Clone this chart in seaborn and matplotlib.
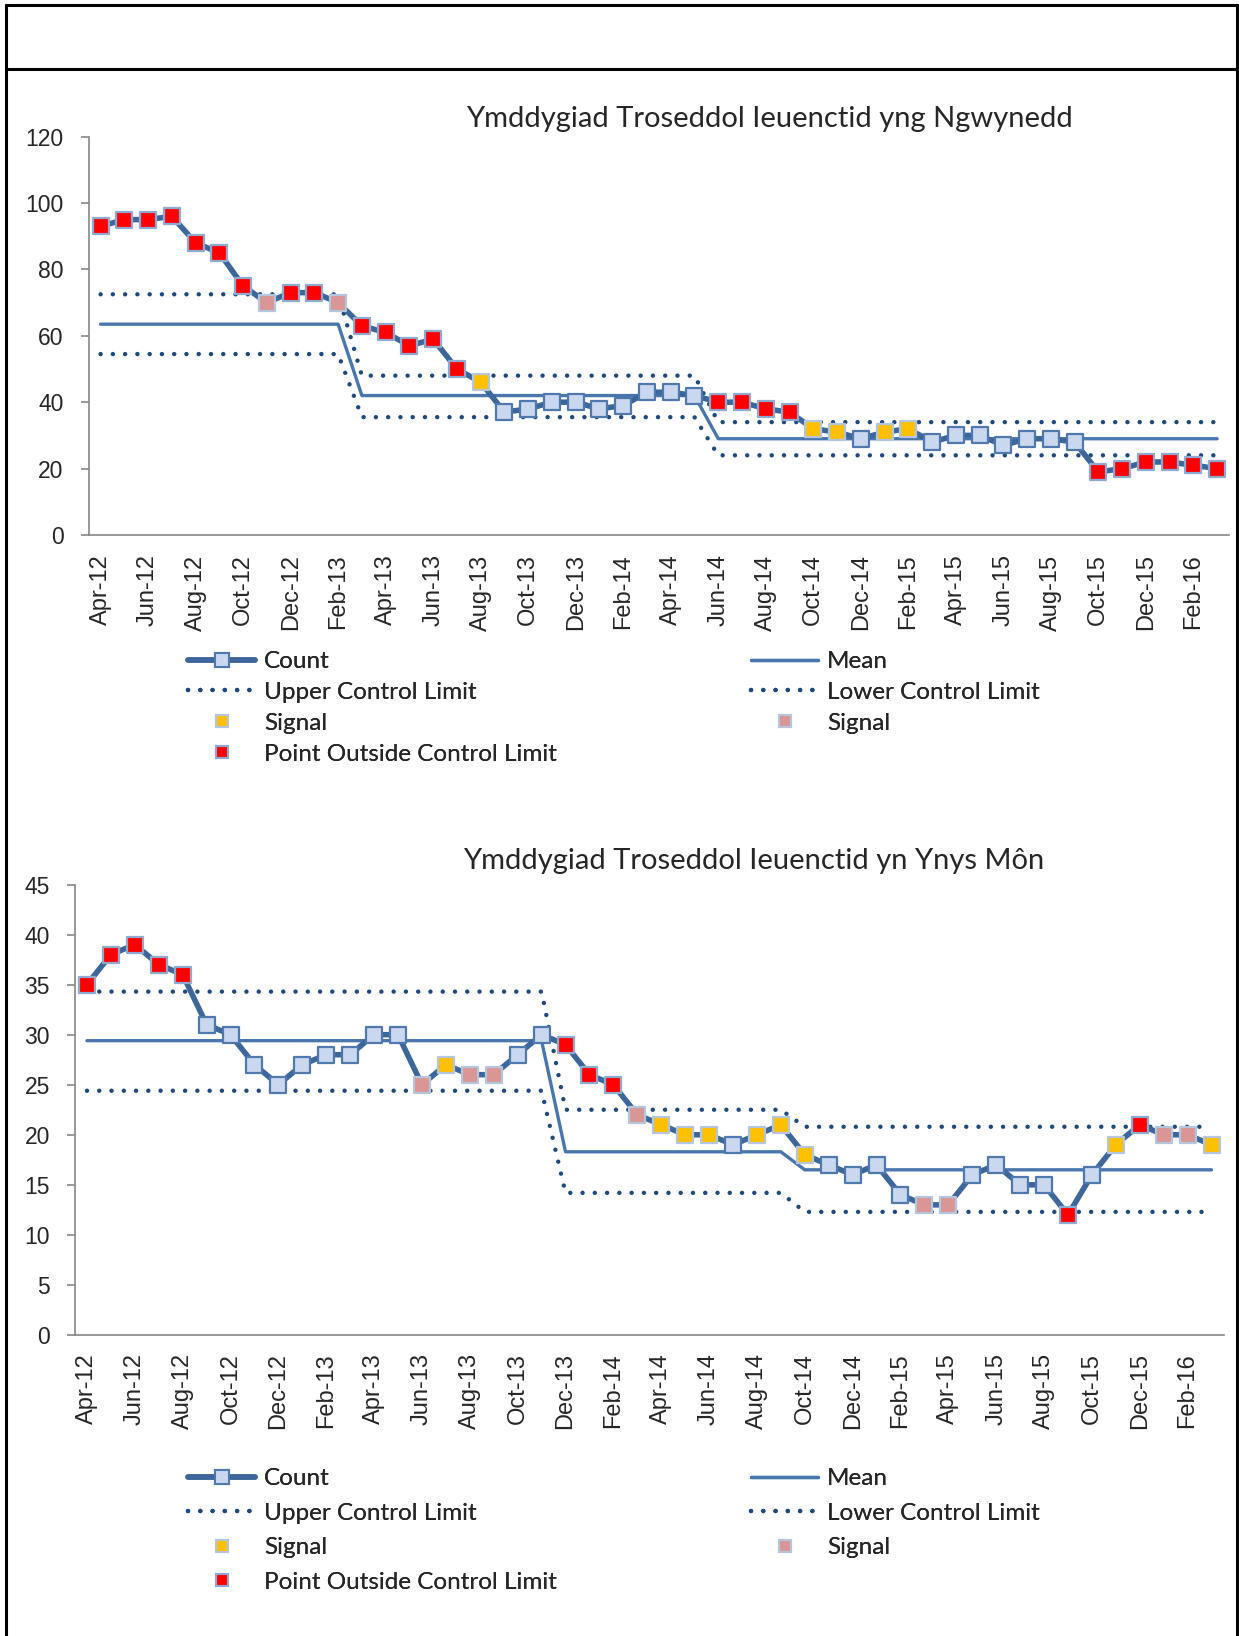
import numpy as np
import pandas as pd
import matplotlib
matplotlib.use("Agg")
import matplotlib.pyplot as plt
import seaborn as sns
from matplotlib.lines import Line2D

# months shown on both charts
months = ["Apr-12", "May-12", "Jun-12", "Jul-12", "Aug-12", "Sep-12", "Oct-12", "Nov-12",
          "Dec-12", "Jan-13", "Feb-13", "Mar-13", "Apr-13", "May-13", "Jun-13", "Jul-13",
          "Aug-13", "Sep-13", "Oct-13", "Nov-13", "Dec-13", "Jan-14", "Feb-14", "Mar-14",
          "Apr-14", "May-14", "Jun-14", "Jul-14", "Aug-14", "Sep-14", "Oct-14", "Nov-14",
          "Dec-14", "Jan-15", "Feb-15", "Mar-15", "Apr-15", "May-15", "Jun-15", "Jul-15",
          "Aug-15", "Sep-15", "Oct-15", "Nov-15", "Dec-15", "Jan-16", "Feb-16", "Mar-16"]

# Gwynedd
gw_count = [93, 95, 95, 96, 88, 85, 75, 70, 73, 73, 70, 63, 61, 57, 59, 50, 46, 37, 38, 40,
            40, 38, 39, 43, 43, 42, 40, 40, 38, 37, 32, 31, 29, 31, 32, 28, 30, 30, 27, 29,
            29, 28, 19, 20, 22, 22, 21, 20]
# n = normal, y = signal (yellow), p = signal (pink), r = outside control limit
gw_status = list("rrrrrrrprr" "prrrrrynnn" "nnnnnnrrrr" "yynyynnnnn" "nnrrrrrr")
gw_seg_len = [11, 15, 22]
gw_mean = [63.5, 42, 29]
gw_ucl = [72.5, 48, 34]
gw_lcl = [54.5, 35.5, 24]

# Ynys Mon
ym_count = [35, 38, 39, 37, 36, 31, 30, 27, 25, 27, 28, 28, 30, 30, 25, 27, 26, 26, 28, 30,
            29, 26, 25, 22, 21, 20, 20, 19, 20, 21, 18, 17, 16, 17, 14, 13, 13, 16, 17, 15,
            15, 12, 16, 19, 21, 20, 20, 19]
ym_status = list("rrrrrnnnnn" "nnnnpyppnn" "rrrpyyynyy" "ynnnnppnnn" "nrnyrppy")
ym_seg_len = [20, 10, 18]
ym_mean = [29.4, 18.3, 16.5]
ym_ucl = [34.3, 22.5, 20.8]
ym_lcl = [24.4, 14.2, 12.3]

LINE_C = "#3D679B"
MEAN_C = "#4A76AE"
DOT_C = "#1F4A7E"
face = {"n": "#C9D8EE", "y": "#FFC000", "p": "#D99694", "r": "#FF0000"}
edge = {"n": "#4F79AE", "y": "#B4C6DE", "p": "#B4C6DE", "r": "#8FAAD0"}

sns.set_style("white")
plt.rcParams["font.family"] = ["Liberation Sans", "DejaVu Sans"]
TITLE_FONT = ["Lato", "DejaVu Sans"]

fig = plt.figure(figsize=(12.39, 16.36), dpi=100)
W, H = 1239, 1636


def draw_chart(ax, count, status, seg_len, mean, ucl, lcl, ymax, ystep, xpad, ypad):
    df = pd.DataFrame({
        "x": np.arange(len(months)),
        "count": count,
        "status": status,
        "mean": np.repeat(mean, seg_len),
        "ucl": np.repeat(ucl, seg_len),
        "lcl": np.repeat(lcl, seg_len),
    })
    dots = (0, (0.01, 2.75))
    for col in ["ucl", "lcl"]:
        sns.lineplot(data=df, x="x", y=col, ax=ax, color=DOT_C, linewidth=3.2,
                     linestyle=dots, dash_capstyle="round", zorder=2)
    sns.lineplot(data=df, x="x", y="mean", ax=ax, color=MEAN_C, linewidth=2.4, zorder=2)
    sns.lineplot(data=df, x="x", y="count", ax=ax, color=LINE_C, linewidth=4.0, zorder=3)
    for st in ["n", "y", "p", "r"]:
        sub = df[df["status"] == st]
        sns.scatterplot(data=sub, x="x", y="count", ax=ax, marker="s", s=125,
                        color=face[st], edgecolor=edge[st], linewidth=1.6, zorder=4)

    ax.set_xlim(-0.5, len(months) - 0.5)
    ax.set_ylim(0, ymax)
    ax.set_yticks(np.arange(0, ymax + 1, ystep))
    ax.set_xticks(np.arange(0, len(months), 2))
    ax.set_xticklabels(months[::2], rotation=90)
    ax.set_xlabel("")
    ax.set_ylabel("")
    for s in ["top", "right"]:
        ax.spines[s].set_visible(False)
    for s in ["left", "bottom"]:
        ax.spines[s].set_color("#888888")
        ax.spines[s].set_linewidth(1.2)
    ax.tick_params(axis="y", which="both", left=True, length=6, width=1.2,
                   color="#888888", pad=ypad, labelsize=16.5)
    ax.tick_params(axis="x", length=0, pad=xpad, labelsize=17)
    if ax.get_legend():
        ax.get_legend().remove()


def add_legend(y_top, spacing):
    fs = 17.5
    count_h = Line2D([], [], color=LINE_C, linewidth=4.0, marker="s", markersize=10,
                     markerfacecolor=face["n"], markeredgecolor=edge["n"], markeredgewidth=1.5)
    mean_h = Line2D([], [], color=MEAN_C, linewidth=2.4)
    dot_h = Line2D([], [], color=DOT_C, linewidth=3.2, linestyle=(0, (0.01, 2.75)),
                   dash_capstyle="round")
    def mk(st):
        return Line2D([], [], linestyle="none", marker="s", markersize=9,
                      markerfacecolor=face[st], markeredgecolor=edge[st], markeredgewidth=1.5)
    col1 = [(count_h, "Count"), (dot_h, "Upper Control Limit"), (mk("y"), "Signal"),
            (mk("r"), "Point Outside Control Limit")]
    col2 = [(mean_h, "Mean"), (dot_h, "Lower Control Limit"), (mk("p"), "Signal")]
    for x0, items in [(188, col1), (751, col2)]:
        leg = fig.legend([h for h, _ in items], [t for _, t in items],
                         loc="upper left", bbox_to_anchor=(x0 / W, 1 - y_top / H),
                         frameon=False, handlelength=2.76, handletextpad=0.37,
                         labelspacing=spacing, borderpad=0, borderaxespad=0,
                         prop={"family": TITLE_FONT, "size": fs})
        fig.add_artist(leg)


ax1 = fig.add_axes([88.7 / W, 1 - 535 / H, (1229 - 88.7) / W, (535 - 136.6) / H])
draw_chart(ax1, gw_count, gw_status, gw_seg_len, gw_mean, gw_ucl, gw_lcl, 120, 20, 14, 12)
fig.text(769 / W, 1 - 119.5 / H, "Ymddygiad Troseddol Ieuenctid yng Ngwynedd",
         ha="center", va="center", fontsize=21, family=TITLE_FONT)
add_legend(651, 0.41)

ax2 = fig.add_axes([75 / W, 1 - 1335 / H, 1148.5 / W, (1335 - 884.5) / H])
draw_chart(ax2, ym_count, ym_status, ym_seg_len, ym_mean, ym_ucl, ym_lcl, 45, 5, 13, 12)
fig.text(754 / W, 1 - 861 / H, "Ymddygiad Troseddol Ieuenctid yn Ynys Môn",
         ha="center", va="center", fontsize=21, family=TITLE_FONT)
add_legend(1468, 0.56)

# page frame around the charts
for xs, ys in [([6, 6], [5, H]), ([1237, 1237], [5, H]), ([6, 1237], [5, 5]), ([6, 1237], [69, 69])]:
    fig.add_artist(Line2D([x / W for x in xs], [1 - y / H for y in ys],
                          color="black", linewidth=2.2))

fig.savefig("out.png", dpi=100)
